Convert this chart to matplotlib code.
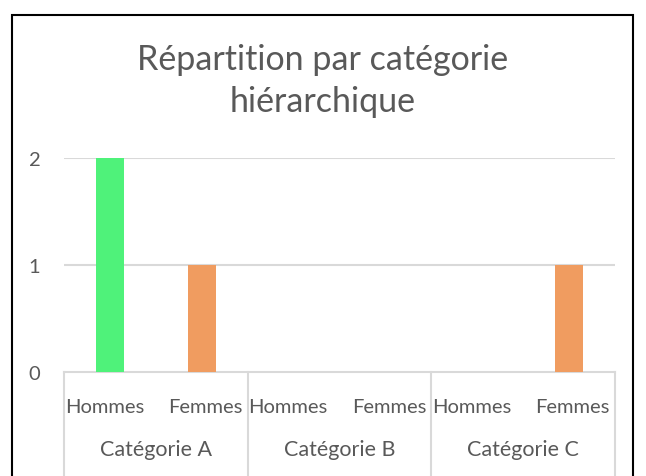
import matplotlib
matplotlib.use("Agg")
import matplotlib.pyplot as plt
import matplotlib.transforms as mtransforms
from matplotlib.patches import Rectangle

categories = ["Catégorie A", "Catégorie B", "Catégorie C"]
genres = ["Hommes", "Femmes"]
hommes = [2, 0, 0]
femmes = [1, 0, 1]
y_ticks = [0, 1, 2]

couleur_hommes = "#4ff27a"
couleur_femmes = "#f09c60"
gris_texte = "#595959"
gris_ligne = "#d9d9d9"

plt.rcParams['font.family'] = ['Lato', 'DejaVu Sans']

W, H = 646, 477
fig = plt.figure(figsize=(W / 100, H / 100), dpi=100)

# zone de tracé en pixels
x0, x1, y_haut, y_bas = 64, 615, 159, 373
ax = fig.add_axes([x0 / W, (H - y_bas) / H, (x1 - x0) / W, (y_bas - y_haut) / H])

n = len(categories)
pos_h = [2 * i + 0.5 for i in range(n)]
pos_f = [2 * i + 1.5 for i in range(n)]
ax.bar(pos_h, hommes, width=0.3, color=couleur_hommes, zorder=3)
ax.bar(pos_f, femmes, width=0.3, color=couleur_femmes, zorder=3)

ax.set_xlim(0, 2 * n)
ax.set_ylim(0, max(y_ticks))
ax.set_yticks(y_ticks)
ax.set_yticklabels([str(v) for v in y_ticks], fontsize=14.5, color=gris_texte)
ax.tick_params(axis='y', length=0, pad=17)
ax.set_xticks([])
for s in ax.spines.values():
    s.set_visible(False)
for v in y_ticks[1:]:
    ax.axhline(v, color=gris_ligne, lw=1.5, zorder=1)
ax.axhline(0, color=gris_ligne, lw=1.5, zorder=1, clip_on=False)

# axe à deux niveaux
trans = mtransforms.blended_transform_factory(ax.transData, fig.transFigure)
y_lab1 = (H - 408) / H
y_lab2 = (H - 450) / H
for i in range(n + 1):
    ax.plot([2 * i, 2 * i], [(H - y_bas) / H, -0.01], transform=trans,
            color=gris_ligne, lw=1.5, clip_on=False)
for i, cat in enumerate(categories):
    ax.text(pos_h[i] - 0.06, y_lab1, genres[0], transform=trans, ha='center', va='center',
            fontsize=14.5, color=gris_texte)
    ax.text(pos_f[i] + 0.04, y_lab1, genres[1], transform=trans, ha='center', va='center',
            fontsize=14.5, color=gris_texte)
    ax.text(2 * i + 1, y_lab2, cat, transform=trans, ha='center', va='center',
            fontsize=15.5, color=gris_texte)

fig.text(0.5, (H - 81) / H, "Répartition par catégorie\nhiérarchique", ha='center',
         va='center', fontsize=24.5, color=gris_texte, linespacing=1.4)

# cadre
fig.patches.append(Rectangle((12 / W, -0.1), (633 - 12) / W, (H - 16) / H + 0.1,
                             transform=fig.transFigure, fill=False,
                             edgecolor='black', lw=1.5))

fig.savefig("out.png", dpi=100)
